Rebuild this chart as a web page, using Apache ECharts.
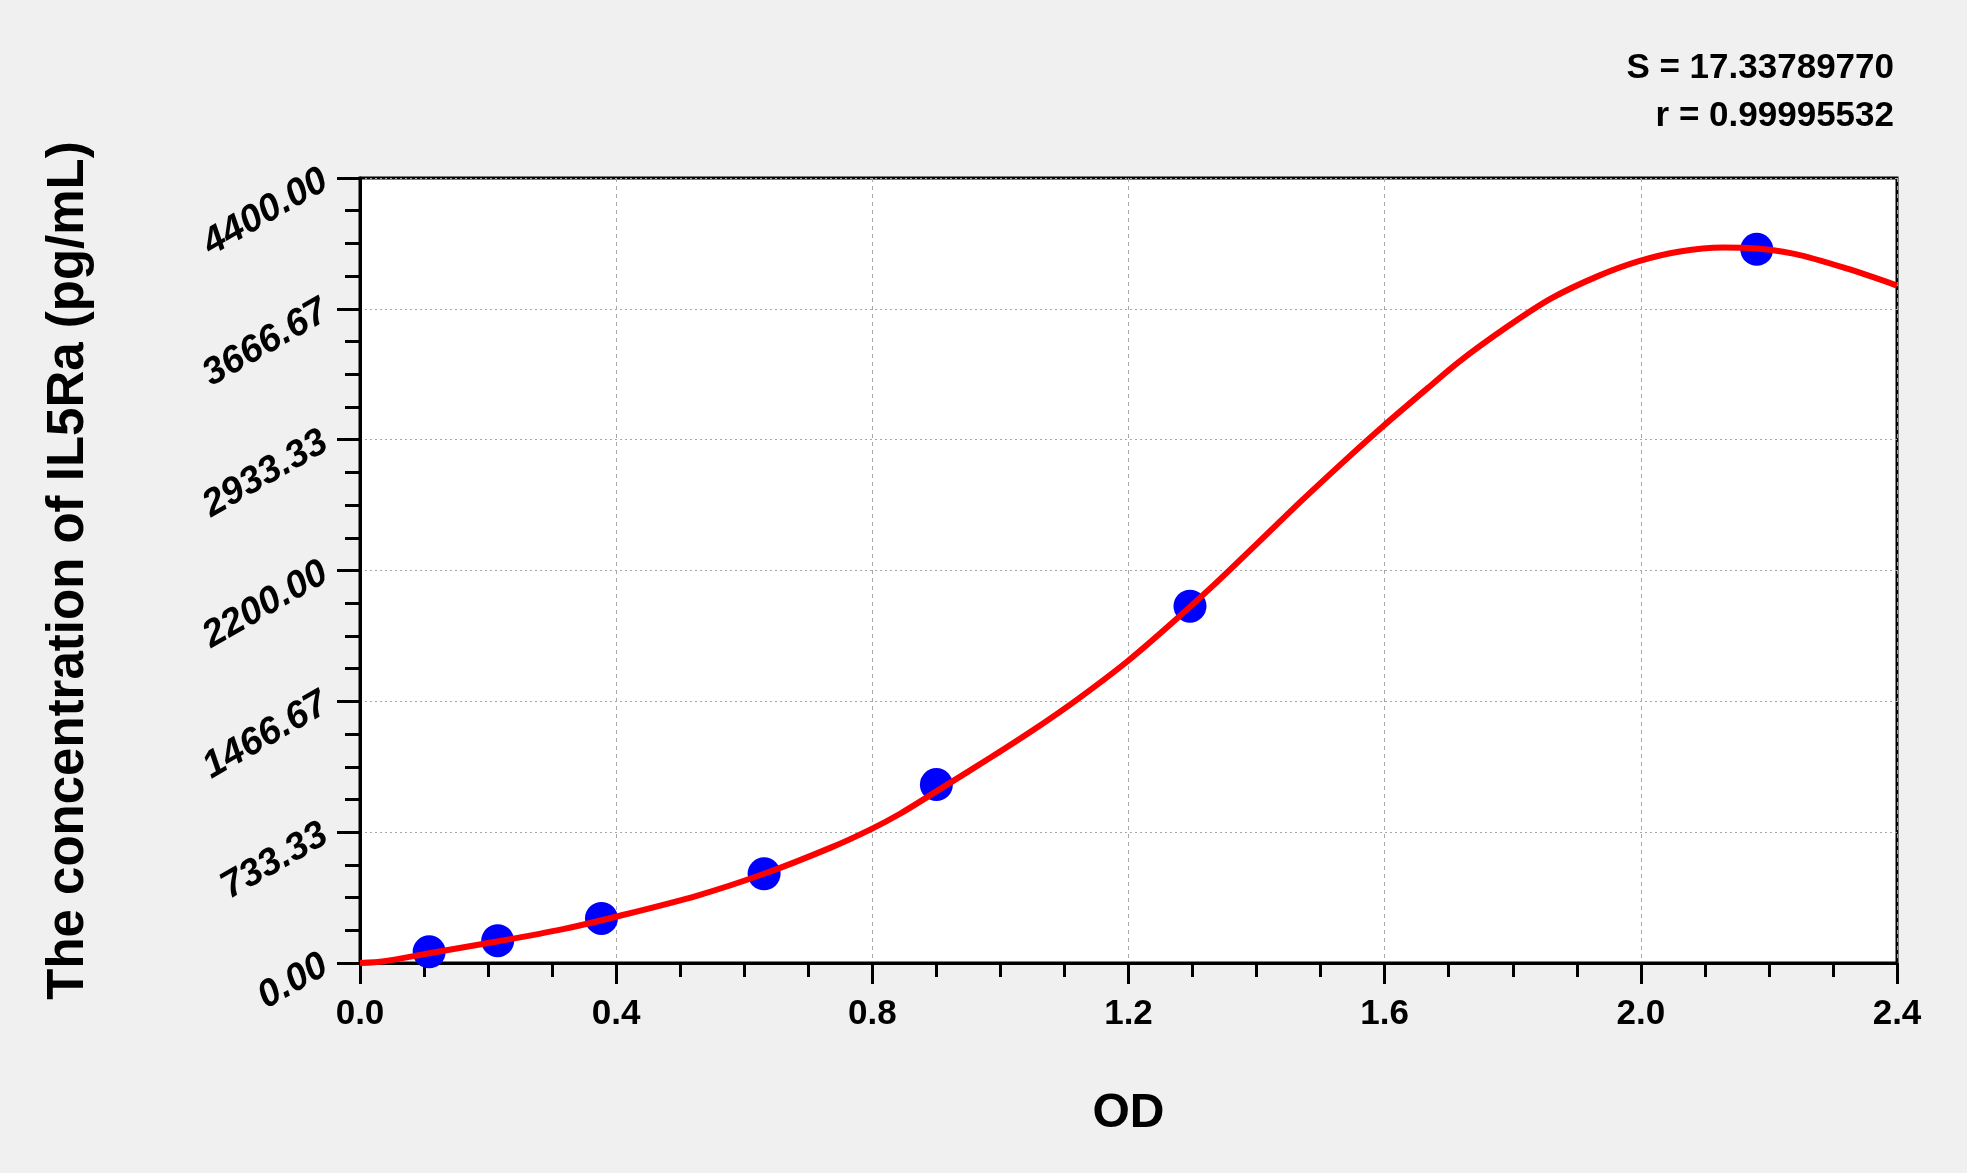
<!DOCTYPE html>
<html>
<head>
<meta charset="utf-8">
<script src="https://cdn.jsdelivr.net/npm/echarts@6/dist/echarts.min.js"></script>
<style>
html,body{margin:0;padding:0;background:#f0f0f0;}
#chart{width:1967px;height:1173px;}
</style>
</head>
<body>
<div id="chart"></div>
<script>
// Standard points (OD, concentration pg/mL)
const standardOD = [0.108, 0.215, 0.377, 0.631, 0.900, 1.296, 2.181];
const standardConc = [62.5, 125, 250, 500, 1000, 2000, 4000];

// Fitted curve
const curveOD = [0, 0.038, 0.108, 0.216, 0.317, 0.398, 0.527, 0.631, 0.736, 0.799, 0.844, 0.900, 0.984, 1.053, 1.123, 1.198, 1.263, 1.333, 1.402, 1.472, 1.542, 1.598, 1.668, 1.716, 1.793, 1.860, 1.933, 1.997, 2.061, 2.128, 2.167, 2.240, 2.324, 2.400];
const curveConc = [0, 10, 55, 122, 190, 258, 378, 500, 648, 752, 838, 962, 1150, 1310, 1485, 1690, 1890, 2118, 2355, 2597, 2830, 3010, 3225, 3370, 3570, 3725, 3850, 3934, 3988, 4010, 4008, 3975, 3890, 3797];

const xTickLabels = ['0.0', '0.4', '0.8', '1.2', '1.6', '2.0', '2.4'];
const yTickLabels = ['0.00', '733.33', '1466.67', '2200.00', '2933.33', '3666.67', '4400.00'];

const statS = 'S = 17.33789770';
const statR = 'r = 0.99995532';

const chart = echarts.init(document.getElementById('chart'));
const FONT = '"Liberation Sans", Arial, sans-serif';

chart.setOption({
  backgroundColor: '#f0f0f0',
  animation: false,
  grid: {
    left: 360, right: 70, top: 178, bottom: 210,
    show: true, backgroundColor: '#ffffff', borderColor: '#000', borderWidth: 3
  },
  graphic: [
    { type: 'text', right: 73, top: 51, style: { text: statS, font: 'bold 35px ' + FONT, fill: '#000', textAlign: 'right' } },
    { type: 'text', right: 73, top: 99, style: { text: statR, font: 'bold 35px ' + FONT, fill: '#000', textAlign: 'right' } }
  ],
  xAxis: {
    type: 'value', min: 0, max: 2.4, interval: 0.4,
    name: 'OD', nameLocation: 'middle', nameGap: 127,
    nameTextStyle: { fontFamily: FONT, fontWeight: 'bold', fontSize: 48, color: '#000' },
    axisLine: { show: true, lineStyle: { color: '#000', width: 3 } },
    axisTick: { show: true, length: 21, lineStyle: { color: '#000', width: 3 } },
    minorTick: { show: true, splitNumber: 4, length: 14, lineStyle: { color: '#000', width: 3 } },
    axisLabel: {
      margin: 34, fontFamily: FONT, fontWeight: 'bold', fontSize: 35, color: '#000',
      formatter: (v, i) => xTickLabels[i]
    },
    splitLine: { show: true, lineStyle: { color: '#a8a8a8', width: 1, type: [4, 4] } }
  },
  yAxis: {
    type: 'value', min: 0, max: 4400, interval: 4400 / 6,
    name: 'The concentration of IL5Ra (pg/mL)', nameLocation: 'middle', nameGap: 266,
    nameTextStyle: { fontFamily: FONT, fontWeight: 'bold', fontSize: 51, color: '#000' },
    axisLine: { show: true, lineStyle: { color: '#000', width: 3 } },
    axisTick: { show: true, length: 23, lineStyle: { color: '#000', width: 3 } },
    minorTick: { show: true, splitNumber: 4, length: 15, lineStyle: { color: '#000', width: 3 } },
    axisLabel: {
      margin: 35, rotate: 30, fontFamily: FONT, fontWeight: 'bold', fontStyle: 'italic', fontSize: 38, color: '#000',
      formatter: (v, i) => yTickLabels[i]
    },
    splitLine: { show: true, lineStyle: { color: '#a8a8a8', width: 1, type: [2, 3] } }
  },
  series: [
    {
      type: 'scatter', z: 1,
      data: standardOD.map((x, i) => [x, standardConc[i]]),
      symbol: 'circle', symbolSize: 33,
      itemStyle: { color: '#0000ff', opacity: 1 }
    },
    {
      type: 'line', z: 3,
      data: curveOD.map((x, i) => [x, curveConc[i]]),
      showSymbol: false, smooth: 0.3,
      lineStyle: { color: '#ff0000', width: 6 }
    }
  ]
});
</script>
</body>
</html>
